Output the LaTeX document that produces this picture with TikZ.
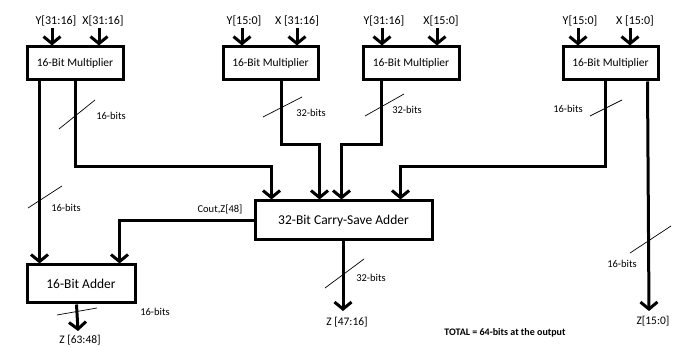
\documentclass[tikz,border=0pt]{standalone}
\usepackage{fontspec}
\setmainfont{Carlito}
\usetikzlibrary{arrows.meta}
\begin{document}
\begin{tikzpicture}[x=1pt,y=-1pt,
  blk/.style={draw,line width=3pt,inner sep=0pt,minimum height=33pt},
  arr/.style={line width=3pt,-{Straight Barb[length=7pt,width=17pt]}},
  slash/.style={line width=0.7pt},
  inlab/.style={inner sep=0pt,font=\fontsize{12}{13}\selectfont},
  bitlab/.style={inner sep=0pt,font=\fontsize{10.5}{12}\selectfont},
  outlab/.style={inner sep=0pt,font=\fontsize{11.5}{13}\selectfont}]
\useasboundingbox (0,0) rectangle (683,347);
\fill[white] (0,0) rectangle (683,347);
% blocks
\node[blk,minimum width=96pt,font=\fontsize{11.5}{13}\selectfont] (m1) at (75,63.5) {16-Bit Multiplier};
\node[blk,minimum width=95pt,font=\fontsize{11.5}{13}\selectfont] (m2) at (270.5,63.5) {16-Bit Multiplier};
\node[blk,minimum width=96pt,font=\fontsize{11.5}{13}\selectfont] (m3) at (411,63.5) {16-Bit Multiplier};
\node[blk,minimum width=95pt,font=\fontsize{11.5}{13}\selectfont] (m4) at (610.5,63.5) {16-Bit Multiplier};
\node[blk,minimum width=177pt,minimum height=39pt,font=\fontsize{13.5}{15}\selectfont] (csa) at (343.5,220.5) {32-Bit Carry-Save Adder};
\node[blk,minimum width=108pt,minimum height=38pt,font=\fontsize{13.5}{15}\selectfont] (add) at (81,284) {16-Bit Adder};
% input labels
\node[inlab] (y1) at (56,21) {Y[31:16]};
\node[inlab] (x1) at (103,21) {X[31:16]};
\node[inlab] (y2) at (244,21) {Y[15:0]};
\node[inlab] (x2) at (297,21) {X [31:16]};
\node[inlab] (y3) at (384,21) {Y[31:16]};
\node[inlab] (x3) at (441,21) {X[15:0]};
\node[inlab] (y4) at (580,21) {Y[15:0]};
\node[inlab] (x4) at (635,21) {X [15:0]};
% input arrows
\coordinate (a1) at (52,28); \coordinate (b1) at (99,28);
\coordinate (a2) at (242,28); \coordinate (b2) at (297,28);
\coordinate (a3) at (382,28); \coordinate (b3) at (437,28);
\coordinate (a4) at (578,28); \coordinate (b4) at (630,28);
\foreach \p/\m in {a1/m1,b1/m1,a2/m2,b2/m2,a3/m3,b3/m3,a4/m4,b4/m4}
  \draw[arr] (\p) -- (\p |- \m.north);
% multiplier outputs
\draw[arr] ([xshift=14pt]m1.south west) -- ([xshift=14pt]add.north west);
\draw[arr] ([xshift=50pt]m1.south west) -- ++(0,85) -| ([xshift=18pt]csa.north west);
\draw[arr] ([xshift=60pt]m2.south west) -- ++(0,63) -| ([xshift=66pt]csa.north west);
\draw[arr] ([xshift=20pt]m3.south west) -- ++(0,63) -| ([xshift=88pt]csa.north west);
\draw[arr] ([xshift=44pt]m4.south west) -- ++(0,85) -| ([xshift=147pt]csa.north west);
\coordinate (e4) at (649,311);
\draw[arr] ([xshift=86pt]m4.south west) -- (e4);
% csa outputs
\coordinate (e2) at (343,311);
\draw[arr] (csa.south -| e2) -- (e2);
\draw[arr] (csa.west) -| ([xshift=94pt]add.north west);
% adder output
\coordinate (e1) at (78,331);
\draw[arr] ([xshift=51pt]add.south west) -- (e1);
% slashes
\draw[slash] (59,129) -- (95,100);
\draw[slash] (28,208) -- (62,186);
\draw[slash] (263,117) -- (302,97);
\draw[slash] (365,116) -- (404,94);
\draw[slash] (590,116) -- (622,100);
\draw[slash] (630,253) -- (671,226);
\draw[slash] (325,288) -- (364,259);
\draw[slash] (57,315) -- (97,308);
% bit labels
\node[bitlab] (l1) at (111,116) {16-bits};
\node[bitlab] (l2) at (66,208) {16-bits};
\node[bitlab] (l3) at (311,113) {32-bits};
\node[bitlab] (l4) at (407,110) {32-bits};
\node[bitlab] (l5) at (568,109) {16-bits};
\node[bitlab] (l6) at (622,264) {16-bits};
\node[bitlab] (l7) at (371,278) {32-bits};
\node[bitlab] (l8) at (155,312) {16-bits};
\node[bitlab] (cout) at (220,209) {Cout,Z[48]};
% outputs
\node[outlab] (z1) at (80,340) {Z [63:48]};
\node[outlab] (z2) at (347,322) {Z [47:16]};
\node[outlab] (z3) at (653,321) {Z[15:0]};
\node[inner sep=0pt,font=\fontsize{10}{12}\selectfont\bfseries] (tot) at (505,333) {TOTAL = 64-bits at the output};
\end{tikzpicture}
\end{document}
